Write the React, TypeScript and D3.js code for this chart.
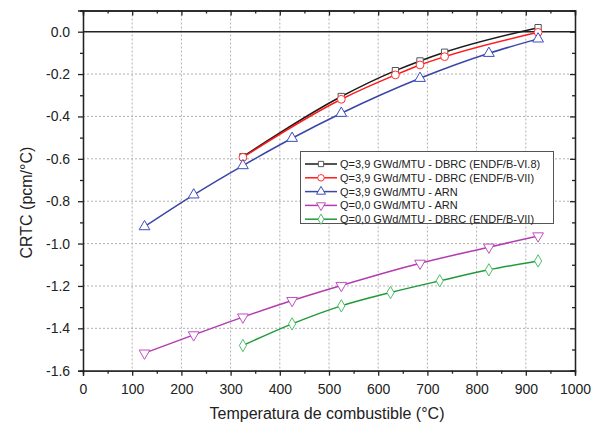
import * as d3 from "d3";
import { useEffect, useRef } from "react";

// temperature (°C) and CRTC (pcm/°C)
const xBlack = [325, 525, 635, 685, 735, 925];
const yBlack = [-0.59, -0.306, -0.184, -0.138, -0.097, 0.019];
const xRed = [325, 525, 635, 685, 735, 925];
const yRed = [-0.593, -0.319, -0.204, -0.157, -0.118, -0.003];
const xBlue = [125, 225, 325, 425, 525, 685, 825, 925];
const yBlue = [-0.92, -0.77, -0.632, -0.503, -0.385, -0.22, -0.102, -0.034];
const xPurple = [125, 225, 325, 425, 525, 685, 825, 925];
const yPurple = [-1.517, -1.431, -1.347, -1.269, -1.198, -1.093, -1.017, -0.964];
const xGreen = [325, 425, 525, 625, 725, 825, 925];
const yGreen = [-1.481, -1.379, -1.294, -1.231, -1.176, -1.124, -1.082];

const labels = [
  "Q=3,9 GWd/MTU - DBRC (ENDF/B-VI.8)",
  "Q=3,9 GWd/MTU - DBRC (ENDF/B-VII)",
  "Q=3,9 GWd/MTU - ARN",
  "Q=0,0 GWd/MTU - ARN",
  "Q=0,0 GWd/MTU - DBRC (ENDF/B-VII)",
];

const xTicks = d3.range(0, 1001, 100);
const yTicks = d3.range(-1.6, 0.01, 0.2).map((v) => +v.toFixed(1));

const App = () => {
  const ref = useRef<SVGSVGElement>(null);
  const width = 601, height = 430;
  const m = { left: 83, right: 575, top: 10.5, bottom: 370.7 };

  useEffect(() => {
    const svg = d3.select(ref.current);
    svg.selectAll("*").remove();

    const x = d3.scaleLinear().domain([0, 1000]).range([m.left, m.right]);
    const y = d3.scaleLinear().domain([-1.6, 0.1]).range([m.bottom, m.top]);
    const font = "Liberation Sans, Arial, sans-serif";

    svg.append("rect").attr("width", width).attr("height", height).attr("fill", "#fff");

    // grid
    const grid = svg.append("g").attr("stroke", "#b0b0b0").attr("stroke-dasharray", "2,2").attr("stroke-width", 1);
    xTicks.slice(1, -1).forEach((t) => {
      grid.append("line").attr("x1", x(t)).attr("x2", x(t)).attr("y1", m.top).attr("y2", m.bottom);
    });
    yTicks.slice(1, -1).forEach((t) => {
      grid.append("line").attr("x1", m.left).attr("x2", m.right).attr("y1", y(t)).attr("y2", y(t));
    });

    // zero line
    svg.append("line").attr("x1", m.left).attr("x2", m.right).attr("y1", y(0)).attr("y2", y(0))
      .attr("stroke", "#222").attr("stroke-width", 1.6);

    const minorY = d3.range(-1.5, 0.11, 0.2).map((v) => +v.toFixed(1));
    const minorX = d3.range(50, 1000, 100);
    const fmtY = (d: any) => d3.format(".1f")(d).replace("−", "-");

    // axes
    const xb = d3.axisBottom(x).tickValues(xTicks).tickSize(5).tickFormat(d3.format("d"));
    const xbm = d3.axisBottom(x).tickValues(minorX).tickSize(3).tickFormat(() => "");
    const xt = d3.axisTop(x).tickValues(xTicks).tickSize(-5).tickFormat(() => "");
    const xtm = d3.axisTop(x).tickValues(minorX).tickSize(-3).tickFormat(() => "");
    const yl = d3.axisLeft(y).tickValues(yTicks).tickSize(5).tickFormat(fmtY);
    const ylm = d3.axisLeft(y).tickValues(minorY).tickSize(3).tickFormat(() => "");
    const yr = d3.axisRight(y).tickValues(yTicks).tickSize(-5).tickFormat(() => "");
    const yrm = d3.axisRight(y).tickValues(minorY).tickSize(-3).tickFormat(() => "");

    const addAxis = (ax: any, tr: string) => {
      const g = svg.append("g").attr("transform", tr).call(ax);
      g.select(".domain").attr("stroke", "#222").attr("stroke-width", 1.3);
      g.selectAll(".tick line").attr("stroke", "#222").attr("stroke-width", 1.3);
      g.selectAll("text").attr("font-family", font).attr("font-size", 14).attr("fill", "#222");
      return g;
    };
    addAxis(xb, `translate(0,${m.bottom})`).selectAll("text").attr("dy", "1.1em");
    addAxis(xbm, `translate(0,${m.bottom})`);
    addAxis(xt, `translate(0,${m.top})`);
    addAxis(xtm, `translate(0,${m.top})`);
    addAxis(yl, `translate(${m.left},0)`).selectAll("text").attr("dx", "-0.35em");
    addAxis(ylm, `translate(${m.left},0)`);
    addAxis(yr, `translate(${m.right},0)`);
    addAxis(yrm, `translate(${m.right},0)`);

    // titles
    svg.append("text").attr("x", 327).attr("y", 419).attr("text-anchor", "middle")
      .attr("font-family", font).attr("font-size", 16).attr("fill", "#222")
      .text("Temperatura de combustible (°C)");
    svg.append("text").attr("transform", `translate(32,${(m.top + m.bottom) / 2 + 12}) rotate(-90)`)
      .attr("text-anchor", "middle").attr("font-family", font).attr("font-size", 16).attr("fill", "#222")
      .text("CRTC (pcm/°C)");

    const series = [
      { xs: xBlack, ys: yBlack, line: "#1a1a1a", mark: "#555", sym: d3.symbolSquare, size: 40, rot: 0 },
      { xs: xRed, ys: yRed, line: "#ff1a1a", mark: "#ff3030", sym: d3.symbolCircle, size: 48, rot: 0 },
      { xs: xBlue, ys: yBlue, line: "#3a45a8", mark: "#3d4ec0", sym: d3.symbolTriangle, size: 50, rot: 0 },
      { xs: xPurple, ys: yPurple, line: "#b23cb0", mark: "#c04ec0", sym: d3.symbolTriangle, size: 50, rot: 180 },
      { xs: xGreen, ys: yGreen, line: "#1f9a3a", mark: "#4cc06a", sym: d3.symbolDiamond, size: 44, rot: 0 },
    ];

    const lineGen = d3.line<[number, number]>().x((d) => x(d[0])).y((d) => y(d[1])).curve(d3.curveMonotoneX);

    series.forEach((s) => {
      const pts = s.xs.map((v, i) => [v, s.ys[i]] as [number, number]);
      svg.append("path").attr("d", lineGen(pts)).attr("fill", "none").attr("stroke", s.line).attr("stroke-width", 1.5);
    });
    series.forEach((s) => {
      const pts = s.xs.map((v, i) => [v, s.ys[i]] as [number, number]);
      svg.append("g").selectAll("path").data(pts).enter().append("path")
        .attr("d", d3.symbol().type(s.sym).size(s.size)())
        .attr("transform", (d) => `translate(${x(d[0])},${y(d[1])}) rotate(${s.rot})`)
        .attr("fill", "#fff").attr("stroke", s.mark).attr("stroke-width", 1);
    });

    // legend
    const lg = svg.append("g");
    lg.append("rect").attr("x", 300.5).attr("y", 151.5).attr("width", 253).attr("height", 72)
      .attr("fill", "#fff").attr("stroke", "#555").attr("stroke-width", 1);
    series.forEach((s, i) => {
      const yy = 164 + i * 13.8;
      lg.append("line").attr("x1", 305).attr("x2", 337).attr("y1", yy).attr("y2", yy)
        .attr("stroke", s.line).attr("stroke-width", 1.5);
      lg.append("path").attr("d", d3.symbol().type(s.sym).size(s.size * 0.7)())
        .attr("transform", `translate(321,${yy}) rotate(${s.rot})`)
        .attr("fill", "#fff").attr("stroke", s.mark).attr("stroke-width", 1);
      lg.append("text").attr("x", 340).attr("y", yy + 4).attr("font-family", font).attr("font-size", 11)
        .attr("fill", "#222").text(labels[i]);
    });
  }, []);

  return <svg ref={ref} width={width} height={height} style={{ position: "absolute", left: 0, top: 0 }} />;
};

export default App;
